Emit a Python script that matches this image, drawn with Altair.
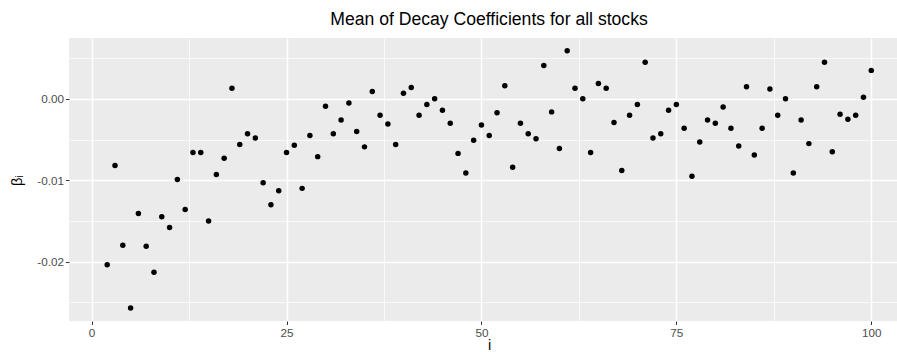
import altair as alt
import pandas as pd

# Index of stock
i_values = list(range(2, 101))

# Mean decay coefficient beta_i for each i
beta_values = [
    -0.0204, -0.0082, -0.0180, -0.0257, -0.0141, -0.0181, -0.0213, -0.0145, -0.0158,  # 2-10
    -0.0099, -0.0136, -0.0066, -0.0066, -0.0150, -0.0093, -0.0073, 0.0013, -0.0056, -0.0043,  # 11-20
    -0.0048, -0.0103, -0.0130, -0.0113, -0.0066, -0.0057, -0.0110, -0.0045, -0.0071, -0.0009,  # 21-30
    -0.0043, -0.0026, -0.0005, -0.0040, -0.0059, 0.0009, -0.0020, -0.0031, -0.0056, 0.0007,  # 31-40
    0.0014, -0.0020, -0.0007, 0.0000, -0.0014, -0.0030, -0.0067, -0.0091, -0.0051, -0.0032,  # 41-50
    -0.0045, -0.0017, 0.0016, -0.0084, -0.0030, -0.0043, -0.0049, 0.0041, -0.0016, -0.0061,  # 51-60
    0.0059, 0.0013, 0.0000, -0.0066, 0.0019, 0.0013, -0.0029, -0.0088, -0.0020, -0.0007,  # 61-70
    0.0045, -0.0048, -0.0043, -0.0014, -0.0007, -0.0036, -0.0095, -0.0053, -0.0026, -0.0030,  # 71-80
    -0.0010, -0.0036, -0.0058, 0.0015, -0.0069, -0.0036, 0.0012, -0.0020, 0.0000, -0.0091,  # 81-90
    -0.0026, -0.0055, 0.0015, 0.0045, -0.0065, -0.0019, -0.0025, -0.0020, 0.0002, 0.0035,  # 91-100
]

x_major = [0, 25, 50, 75, 100]
x_minor = [12.5, 37.5, 62.5, 87.5]
y_major = [-0.02, -0.01, 0.00]
y_minor = [-0.025, -0.015, -0.005, 0.005]

df = pd.DataFrame({"i": i_values, "beta": beta_values})

FONT = "Liberation Sans"
x_scale = alt.Scale(domain=[-2.9, 103.3], nice=False, zero=False)
y_scale = alt.Scale(domain=[-0.0273, 0.00748], nice=False, zero=False)

base = alt.Chart(df)

minor = base.mark_point(opacity=0).encode(
    x=alt.X("i:Q", scale=x_scale,
            axis=alt.Axis(values=x_minor, orient="bottom", grid=True, gridColor="white",
                          gridWidth=0.7, labels=False, ticks=False, domain=False, title=None)),
    y=alt.Y("beta:Q", scale=y_scale,
            axis=alt.Axis(values=y_minor, orient="left", grid=True, gridColor="white",
                          gridWidth=0.7, labels=False, ticks=False, domain=False, title=None)),
)

major = base.mark_circle(color="black", opacity=1, size=30).encode(
    x=alt.X("i:Q", scale=x_scale,
            axis=alt.Axis(values=x_major, orient="bottom", grid=True, gridColor="white",
                          gridWidth=1.5, domain=False, tickColor="#333333", tickSize=3.5,
                          labelColor="#4D4D4D", labelFontSize=11.7, labelFont=FONT, labelPadding=3,
                          title="i", titleFont=FONT, titleFontSize=14.7, titleFontWeight="normal",
                          titleColor="black", titleX=420, titleY=28, titleBaseline="alphabetic",
                          titleAlign="center")),
    y=alt.Y("beta:Q", scale=y_scale,
            axis=alt.Axis(values=y_major, orient="left", grid=True, gridColor="white",
                          gridWidth=1.5, domain=False, tickColor="#333333", tickSize=3.5,
                          labelColor="#4D4D4D", labelFontSize=11.7, labelFont=FONT, labelPadding=2,
                          labelExpr="replace(format(datum.value, '.2f'), '\u2212', '-')",
                          title="βᵢ", titleFont=FONT, titleFontSize=14.7, titleFontWeight="normal",
                          titleColor="black", titleX=-52, titleY=142, titleAngle=270,
                          titleAlign="center", titleBaseline="middle")),
)

chart = alt.layer(minor, major).resolve_scale(
    x="independent", y="independent"
).properties(
    width=828,
    height=283,
    background="white",
    title=alt.TitleParams(
        "Mean of Decay Coefficients for all stocks",
        font=FONT, fontSize=17.6, fontWeight="normal", color="black",
        anchor="middle", dx=6, offset=12, dy=17, baseline="alphabetic",
    ),
    autosize=alt.AutoSizeParams(type="none"),
    padding={"left": 69, "top": 38, "right": 0, "bottom": 31},
).configure_view(fill="#EBEBEB", strokeWidth=0)

chart.save("out.html", embed_options={"renderer": "svg", "actions": False})
